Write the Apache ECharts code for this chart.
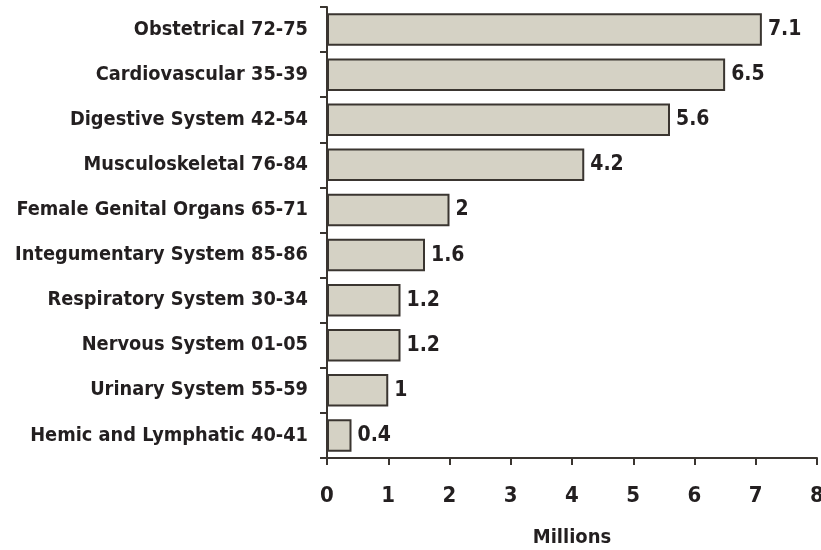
<!DOCTYPE html>
<html><head><meta charset="utf-8">
<script src="https://cdn.jsdelivr.net/npm/echarts@6/dist/echarts.min.js"></script>
<style>html,body{margin:0;padding:0;background:#fff}#c{width:821px;height:550px}</style>
</head><body><div id="c"></div>
<script>
const categories = ["Obstetrical 72-75","Cardiovascular 35-39","Digestive System 42-54","Musculoskeletal 76-84","Female Genital Organs 65-71","Integumentary System 85-86","Respiratory System 30-34","Nervous System 01-05","Urinary System 55-59","Hemic and Lymphatic 40-41"];
const values = [7.1,6.5,5.6,4.2,2,1.6,1.2,1.2,1,0.4];
const xTicks = [0,1,2,3,4,5,6,7,8];
const FONT = '"Liberation Sans Narrow","DejaVu Sans Condensed","Roboto Condensed",sans-serif';
const DARK = '#3a3530';
const TXT = '#231f20';
const chart = echarts.init(document.getElementById('c'));
chart.setOption({
  animation:false,
  grid:{left:327,right:4,top:7,bottom:92,containLabel:false,outerBoundsMode:'none'},
  xAxis:{type:'value',min:xTicks[0],max:xTicks[xTicks.length-1],interval:1,
    axisLine:{show:true,lineStyle:{color:DARK,width:2}},
    axisTick:{show:true,length:7,lineStyle:{color:DARK,width:2}},
    splitLine:{show:false},
    axisLabel:{margin:27,color:TXT,fontFamily:FONT,fontWeight:'bold',fontSize:22},
    name:'Millions',nameLocation:'middle',nameGap:70,
    nameTextStyle:{color:TXT,fontFamily:FONT,fontWeight:'bold',fontSize:20}},
  yAxis:{type:'category',data:categories,inverse:true,
    axisLine:{show:true,lineStyle:{color:DARK,width:2}},
    axisTick:{show:true,length:7,alignWithLabel:false,lineStyle:{color:DARK,width:2}},
    axisLabel:{margin:19,color:TXT,fontFamily:FONT,fontWeight:'bold',fontSize:19.8}},
  series:[{type:'bar',data:values,barWidth:'72%',
    itemStyle:{color:'#d5d2c5',borderColor:DARK,borderWidth:2},
    label:{show:true,position:'right',distance:6,color:TXT,fontFamily:FONT,fontWeight:'bold',fontSize:21}}]
});
</script></body></html>
